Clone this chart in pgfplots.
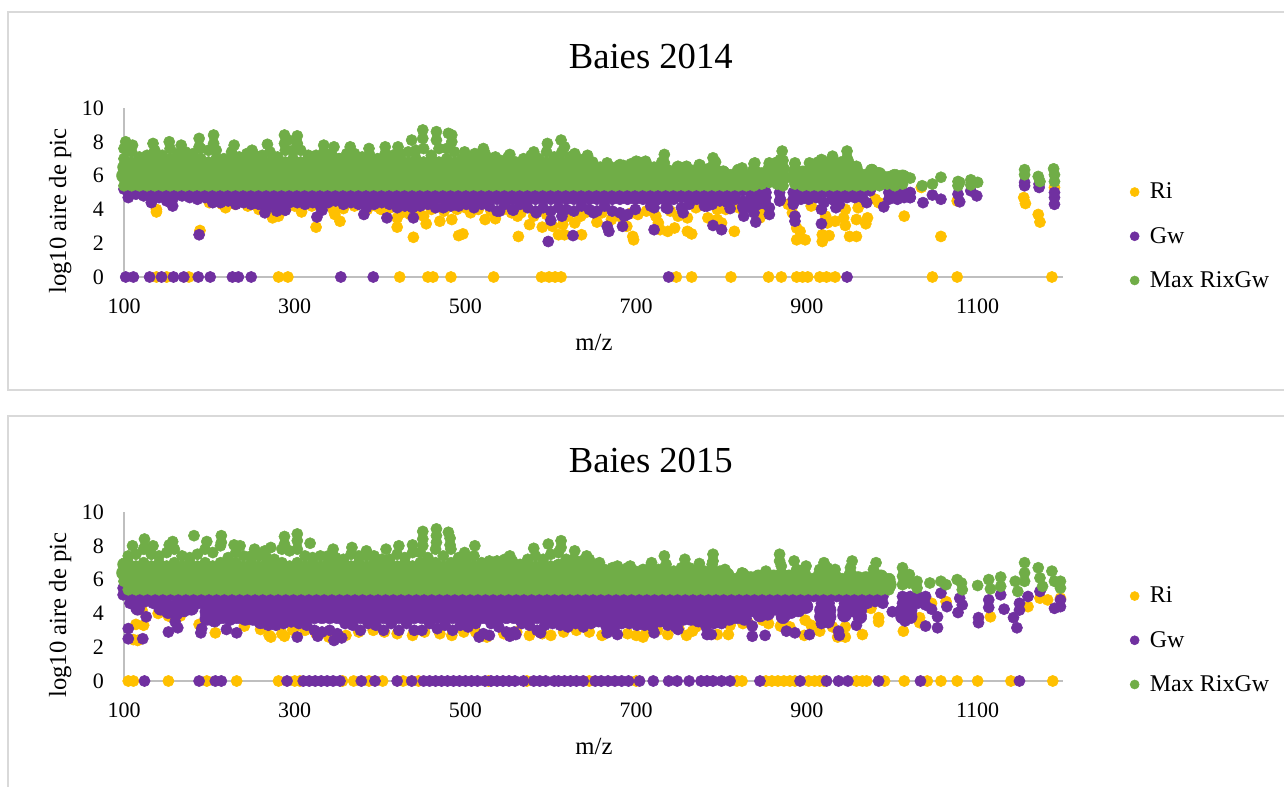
\documentclass[border=0pt]{standalone}
\usepackage{pgfplots}
\usepackage{pgfplotstable}
\usepackage{fontspec}
\setmainfont{Liberation Serif}
\pgfplotsset{compat=1.18}
\definecolor{ri}{HTML}{FFC000}
\definecolor{gw}{HTML}{7030A0}
\definecolor{mx}{HTML}{70AD47}
\definecolor{axg}{HTML}{BFBFBF}
\definecolor{frm}{HTML}{D9D9D9}
\pgfplotsset{
 mk/.style={only marks,mark=*,mark size=4.2pt},
 ri/.style={mk,color=ri},gw/.style={mk,color=gw},mx/.style={mk,color=mx},
 panel/.style={
  scale only axis,width=704.25pt,height=126.75pt,anchor=south west,clip=false,
  xmin=100,xmax=1200,ymin=0,ymax=10,
  axis x line*=bottom,axis y line*=left,
  axis line style={draw=axg,line width=1.3pt,-},
  xtick={100,300,500,700,900,1100},ytick={0,2,4,6,8,10},
  major tick length=0pt,
  /pgf/number format/assume math mode=true,
  /pgf/number format/1000 sep={},
  tick label style={font=\fontsize{16.5}{18}\selectfont},
  xticklabel style={yshift=-13pt},yticklabel style={xshift=-11.5pt},
  xlabel={m/z},ylabel={log10 aire de pic},
  label style={font=\fontsize{18.5}{21}\selectfont},
  xlabel style={at={(axis description cs:.5005,-.385)},anchor=center},
  ylabel style={at={(axis description cs:-.068,.39)},anchor=center},
  title style={font=\fontsize{27.5}{30}\selectfont,at={(axis description cs:.561,1.255)},anchor=center},
  legend style={at={(axis description cs:1.0712,.573)},anchor=north west,draw=none,fill=none,
   font=\fontsize{18}{20}\selectfont,row sep=15.75pt,column sep=6pt,inner sep=0pt},
  legend cell align=left,
  legend image post style={mark size=3.4pt},
 }
}
\newcommand{\ser}[3]{\addplot[#1,forget plot] table[x=x,y=#3]{#2};}
% ---------- 2014 ----------
\pgfplotstableread{
x a b c d e
100 5.4 6.0 6.5 7.0 7.6
109 5.4 5.8 6.3 6.8 7.4
118 5.4 6.0 6.5 6.9 7.1
127 5.4 5.8 6.3 6.8 7.2
136 5.4 6.0 6.5 7.0 7.5
145 5.4 5.8 6.3 6.8 7.2
154 5.4 6.0 6.5 7.0 7.6
163 5.4 5.8 6.3 6.8 7.3
172 5.4 6.0 6.5 7.0 7.4
181 5.4 5.8 6.3 6.8 7.3
190 5.4 6.0 6.5 7.0 7.6
199 5.4 5.8 6.3 6.8 7.5
208 5.4 6.0 6.5 7.0 7.5
217 5.4 5.8 6.3 6.8 7.0
226 5.4 6.0 6.5 7.0 7.4
235 5.4 5.8 6.3 6.8 7.1
244 5.4 6.0 6.5 7.0 7.3
253 5.4 5.8 6.3 6.8 7.2
262 5.4 6.0 6.5 7.0 7.2
271 5.4 5.8 6.3 6.8 7.4
280 5.4 6.0 6.5 7.0 7.1
289 5.4 5.8 6.3 6.8 7.5
298 5.4 6.0 6.5 7.0 7.5
307 5.4 5.8 6.3 6.8 7.5
316 5.4 6.0 6.5 7.0 7.2
325 5.4 5.8 6.3 6.8 7.2
334 5.4 6.0 6.5 7.0 7.4
343 5.4 5.8 6.3 6.8 7.3
352 5.4 6.0 6.5 7.0 7.0
361 5.4 5.8 6.3 6.8 7.3
370 5.4 6.0 6.5 7.0 7.3
379 5.4 5.8 6.3 6.8 7.1
388 5.4 6.0 6.5 7.0 7.2
397 5.4 5.8 6.3 6.8 7.0
406 5.4 6.0 6.5 7.0 7.3
415 5.4 5.8 6.3 6.8 7.2
424 5.4 6.0 6.5 7.0 7.3
433 5.4 5.8 6.3 6.8 7.4
442 5.4 6.0 6.5 7.0 7.5
451 5.4 5.8 6.3 6.8 7.6
460 5.4 6.0 6.5 7.0 7.2
469 5.4 5.8 6.3 6.8 7.6
478 5.4 6.0 6.5 7.0 7.6
487 5.4 5.8 6.3 6.8 7.4
496 5.4 6.0 6.5 7.0 7.0
505 5.4 5.8 6.3 6.8 7.1
514 5.4 6.0 6.5 7.0 7.0
523 5.4 5.8 6.3 6.8 7.3
532 5.4 6.0 6.5 6.8 7.0
541 5.4 5.8 6.3 6.7 6.9
550 5.4 6.0 6.5 6.9 7.1
559 5.4 5.8 6.3 6.7 6.8
568 5.4 6.0 6.5 6.9 7.0
577 5.4 5.8 6.3 6.8 7.2
586 5.4 6.0 6.5 6.9 7.0
595 5.4 5.8 6.3 6.8 7.4
604 5.4 6.0 6.5 6.9 7.1
613 5.4 5.8 6.3 6.8 7.4
622 5.4 6.0 6.5 6.9 7.1
631 5.4 5.8 6.3 6.7 7.0
640 5.4 6.0 6.5 6.8 7.0
649 5.4 5.8 6.3 6.6 6.8
658 5.4 6.0 6.3 6.5 nan
667 5.4 5.8 6.2 6.6 nan
676 5.4 5.9 6.2 6.5 nan
685 5.4 5.8 6.2 6.6 nan
694 5.4 5.9 6.3 6.7 nan
703 5.4 5.8 6.3 6.8 nan
712 5.4 6.0 6.4 6.7 nan
721 5.4 5.8 6.2 6.5 nan
730 5.4 6.0 6.4 6.8 nan
739 5.4 5.8 6.1 6.3 nan
748 5.4 5.9 6.2 6.5 nan
757 5.4 5.8 6.2 6.5 nan
766 5.4 5.9 6.1 6.3 nan
775 5.4 5.8 6.2 6.6 nan
784 5.4 5.9 6.2 6.4 nan
793 5.4 5.8 6.3 6.8 nan
802 5.4 5.9 6.2 nan nan
811 5.4 5.7 6.0 nan nan
820 5.4 5.9 6.3 nan nan
829 5.4 5.7 6.0 nan nan
838 5.4 5.9 6.3 6.7 nan
847 5.5 5.8 6.1 nan nan
856 5.6 6.0 6.4 6.7 nan
865 5.5 5.9 6.3 6.8 nan
872 5.4 5.9 6.4 6.9 nan
886 5.5 5.9 6.3 6.7 nan
895 5.4 5.8 6.2 nan nan
904 5.4 5.9 6.3 6.7 nan
913 5.4 5.8 6.3 6.8 nan
922 5.4 6.0 6.4 6.8 nan
931 5.4 5.8 6.3 6.8 nan
940 5.4 6.0 6.4 6.8 nan
949 5.4 5.8 6.3 6.8 nan
958 5.4 5.9 6.3 6.5 nan
967 5.4 5.7 6.0 nan nan
976 5.4 5.9 6.3 nan nan
985 5.4 5.7 6.1 nan nan
994 5.5 5.8 nan nan nan
1003 5.4 5.7 6.0 nan nan
1012 5.5 5.9 nan nan nan
}\GA
\pgfplotstableread{
x a b c
100 5.2 nan nan
105 5.0 4.7 nan
114 5.0 4.9 nan
123 5.0 4.8 nan
132 5.0 4.7 4.4
141 5.0 4.7 nan
150 5.0 4.6 4.5
157 5.0 4.6 4.2
168 5.0 4.8 nan
177 5.0 4.7 nan
186 5.0 4.6 nan
195 5.0 4.7 nan
204 5.0 4.6 4.4
213 5.0 4.6 4.4
222 5.0 4.7 4.5
231 5.0 4.6 4.3
240 5.0 4.6 4.4
249 5.0 4.6 4.3
258 5.0 4.6 4.3
267 5.0 4.6 4.1
276 5.0 4.6 4.3
285 5.0 4.6 4.2
294 5.0 4.6 4.4
303 5.0 4.6 4.4
312 5.0 4.6 4.3
321 5.0 4.6 4.4
330 5.0 4.6 4.2
339 5.0 4.6 4.4
348 5.0 4.6 4.5
357 5.0 4.6 4.3
366 5.0 4.6 4.4
375 5.0 4.6 4.3
384 5.0 4.6 4.1
393 5.0 4.6 4.3
402 5.0 4.6 4.4
411 5.0 4.6 4.3
420 5.0 4.6 4.1
429 5.0 4.6 4.2
438 5.0 4.6 4.1
447 5.0 4.6 4.2
456 5.0 4.6 4.3
465 5.0 4.6 4.1
474 5.0 4.6 4.1
483 5.0 4.6 4.2
492 5.0 4.6 4.2
501 5.0 4.6 4.3
510 5.0 4.6 4.1
519 5.0 4.6 4.3
528 5.0 4.6 4.2
537 5.0 4.6 3.9
546 5.0 4.6 4.3
555 5.0 4.6 4.0
564 5.0 4.6 4.3
573 5.0 4.6 4.1
582 5.0 4.6 3.9
591 5.0 4.6 4.1
600 5.0 4.6 3.9
609 5.0 4.6 4.1
618 5.0 4.6 4.0
627 5.0 4.6 3.9
636 5.0 4.6 4.2
645 5.0 4.6 4.0
654 5.0 4.6 3.9
663 5.0 4.6 4.2
672 5.0 4.6 3.9
681 5.0 4.6 3.8
690 5.0 4.6 3.7
699 5.0 4.6 4.0
708 5.0 4.6 nan
717 5.0 4.7 4.2
726 4.9 4.6 nan
735 5.0 4.5 4.1
744 4.9 4.6 nan
753 5.0 4.7 4.1
762 5.0 4.6 4.3
771 5.0 4.6 nan
780 4.9 4.5 4.2
789 5.0 4.7 4.3
798 4.9 4.5 nan
807 4.9 4.4 nan
816 4.9 4.6 nan
825 5.1 4.5 4.2
834 5.0 4.6 4.1
843 5.0 4.6 4.3
852 5.0 4.7 4.3
868 5.0 4.5 nan
884 5.0 4.6 4.3
893 5.0 4.6 nan
902 5.0 4.6 nan
911 5.0 4.7 nan
920 5.0 4.4 nan
929 5.0 4.6 nan
938 5.0 4.7 4.3
947 5.0 4.7 nan
956 5.0 4.7 nan
965 5.0 4.7 nan
974 5.1 nan nan
996 5.0 4.6 nan
1005 5.0 4.7 nan
1014 5.0 4.7 nan
1021 5.0 4.7 nan
}\PA
% ---------- 2015 ----------
\pgfplotstableread{
x a b c d e
100 5.9 6.4 6.9 nan nan
105 5.4 6.0 6.5 7.0 7.4
114 5.4 5.8 6.3 6.8 7.5
123 5.4 6.0 6.5 7.0 7.8
132 5.4 5.8 6.3 6.8 7.5
141 5.4 6.0 6.5 7.0 7.4
150 5.4 5.8 6.3 6.8 7.6
159 5.4 6.0 6.5 7.0 7.8
168 5.4 5.8 6.3 6.8 7.4
177 5.4 6.0 6.5 7.0 7.3
186 5.4 5.8 6.3 6.8 7.5
195 5.4 6.0 6.5 7.0 7.8
204 5.4 5.8 6.3 6.8 7.6
213 5.4 6.0 6.5 7.0 8.0
222 5.4 5.8 6.3 6.8 7.3
231 5.4 6.0 6.5 7.0 7.6
240 5.4 5.8 6.3 6.8 7.4
249 5.4 6.0 6.5 7.0 7.4
258 5.4 5.8 6.3 6.8 7.4
267 5.4 6.0 6.5 7.0 7.3
276 5.4 5.8 6.3 6.8 7.2
285 5.4 6.0 6.5 7.0 7.8
294 5.4 5.8 6.3 6.8 7.7
303 5.4 6.0 6.5 7.0 7.8
312 5.4 5.8 6.3 6.8 7.4
321 5.4 6.0 6.5 7.0 7.3
330 5.4 5.8 6.3 6.8 7.4
339 5.4 6.0 6.5 7.0 7.4
348 5.4 5.8 6.3 6.8 7.3
357 5.4 6.0 6.5 7.0 7.2
366 5.4 5.8 6.3 6.8 7.5
375 5.4 6.0 6.5 7.0 7.4
384 5.4 5.8 6.3 6.8 7.4
393 5.4 6.0 6.5 7.0 7.4
402 5.4 5.8 6.3 6.8 7.2
411 5.4 6.0 6.5 7.0 7.2
420 5.4 5.8 6.3 6.8 7.5
429 5.4 6.0 6.5 7.0 7.3
438 5.4 5.8 6.3 6.8 7.6
447 5.4 6.0 6.5 7.0 7.6
456 5.4 5.8 6.3 6.8 7.3
465 5.4 6.0 6.5 7.0 7.8
474 5.4 5.8 6.3 6.8 7.4
483 5.4 6.0 6.5 7.0 7.8
492 5.4 5.8 6.3 6.8 7.3
501 5.4 6.0 6.5 7.0 7.2
510 5.4 5.8 6.3 6.8 7.4
519 5.4 6.0 6.5 6.9 7.0
528 5.4 5.8 6.3 6.8 7.1
537 5.4 6.0 6.5 6.9 7.1
546 5.4 5.8 6.3 6.8 7.2
555 5.4 6.0 6.5 6.9 7.1
564 5.4 5.8 6.3 6.7 6.9
573 5.4 6.0 6.5 6.9 7.2
582 5.4 5.8 6.3 6.8 7.4
591 5.4 6.0 6.5 6.9 7.2
600 5.4 5.8 6.3 6.8 7.5
609 5.4 6.0 6.5 6.9 7.6
618 5.4 5.8 6.3 6.8 7.2
627 5.4 6.0 6.5 6.9 7.2
636 5.4 5.8 6.3 6.8 7.1
645 5.4 6.0 6.5 6.9 7.2
654 5.4 5.8 6.3 6.7 6.9
663 5.4 6.0 6.4 6.6 nan
672 5.4 5.8 6.3 6.7 nan
681 5.4 6.0 6.4 6.6 nan
690 5.4 5.8 6.3 6.7 nan
699 5.4 6.0 6.4 6.5 nan
708 5.4 5.8 6.3 6.6 nan
717 5.4 6.0 6.4 6.8 nan
726 5.4 5.8 6.3 6.6 nan
735 5.4 6.0 6.4 6.9 nan
744 5.4 5.8 6.2 6.5 nan
753 5.4 6.0 6.4 6.7 nan
762 5.4 5.8 6.3 6.7 nan
771 5.4 6.0 6.4 6.6 nan
780 5.4 5.8 6.2 6.5 nan
789 5.4 6.0 6.5 6.9 nan
798 5.4 5.8 6.2 6.5 nan
807 5.4 5.9 6.3 nan nan
816 5.4 5.7 6.0 nan nan
825 5.4 5.9 6.3 nan nan
834 5.4 5.7 6.1 nan nan
843 5.4 5.9 6.2 nan nan
852 5.4 5.8 6.3 nan nan
861 5.4 5.9 6.2 nan nan
870 5.4 5.8 6.3 6.8 nan
879 5.4 5.9 6.2 nan nan
888 5.4 5.8 6.3 6.6 nan
897 5.4 5.9 6.3 6.6 nan
906 5.4 5.8 6.0 nan nan
915 5.4 5.9 6.3 6.6 nan
924 5.4 5.8 6.3 6.7 nan
933 5.4 5.9 6.2 nan nan
942 5.4 5.7 6.0 nan nan
951 5.4 5.9 6.3 6.7 nan
960 5.4 5.8 6.1 nan nan
969 5.4 5.9 6.1 nan nan
978 5.4 5.8 6.2 6.6 nan
987 5.4 5.8 6.2 nan nan
996 5.4 5.7 6.0 nan nan
}\GB
\pgfplotstableread{
x a b c d e
99 5.5 5.1 nan nan nan
107 5.0 4.6 nan nan nan
116 5.0 4.6 4.3 nan nan
125 5.0 4.7 nan nan nan
134 5.0 4.6 nan nan nan
143 5.0 4.7 4.3 nan nan
152 5.0 4.5 4.1 nan nan
161 5.0 4.5 4.0 nan nan
170 5.0 4.6 4.2 nan nan
179 5.0 4.6 4.3 nan nan
188 5.0 4.6 nan nan nan
197 5.0 4.6 4.1 3.7 nan
206 5.0 4.6 4.1 3.6 nan
215 5.0 4.6 4.2 3.8 nan
224 5.0 4.6 4.1 3.7 nan
233 5.0 4.6 4.2 3.8 nan
242 5.0 4.6 4.2 3.7 nan
251 5.0 4.6 4.1 3.7 nan
260 5.0 4.6 4.2 3.5 nan
269 5.0 4.6 4.2 3.6 3.3
278 5.0 4.6 4.2 3.8 3.3
287 5.0 4.6 4.2 3.8 3.4
296 5.0 4.6 4.2 3.8 3.5
305 5.0 4.6 4.2 3.8 3.4
314 5.0 4.6 4.2 3.8 3.3
323 5.0 4.6 4.2 3.8 3.0
332 5.0 4.6 4.2 3.8 2.9
341 5.0 4.6 4.2 3.8 3.0
350 5.0 4.6 4.2 3.8 2.8
359 5.0 4.6 4.2 3.8 3.4
368 5.0 4.6 4.2 3.8 3.3
377 5.0 4.6 4.2 3.8 3.0
386 5.0 4.6 4.2 3.8 3.4
395 5.0 4.6 4.2 3.8 3.3
404 5.0 4.6 4.2 3.8 3.0
413 5.0 4.6 4.2 3.8 3.4
422 5.0 4.6 4.2 3.8 3.0
431 5.0 4.6 4.2 3.8 3.4
440 5.0 4.6 4.2 3.8 3.0
449 5.0 4.6 4.2 3.8 3.0
458 5.0 4.6 4.2 3.8 3.4
467 5.0 4.6 4.2 3.8 3.1
476 5.0 4.6 4.2 3.8 3.3
485 5.0 4.6 4.2 3.8 3.0
494 5.0 4.6 4.2 3.8 3.3
503 5.0 4.6 4.2 3.8 3.2
512 5.0 4.6 4.2 3.8 3.4
521 5.0 4.6 4.2 3.8 2.8
530 5.0 4.6 4.2 3.8 3.4
539 5.0 4.6 4.2 3.8 3.2
548 5.0 4.6 4.2 3.8 2.9
557 5.0 4.6 4.2 3.8 2.9
566 5.0 4.6 4.2 3.8 3.4
575 5.0 4.6 4.2 3.8 3.3
584 5.0 4.6 4.2 3.8 3.0
593 5.0 4.6 4.2 3.8 3.3
602 5.0 4.6 4.2 3.8 3.4
611 5.0 4.6 4.2 3.8 3.3
620 5.0 4.6 4.2 3.8 3.2
629 5.0 4.6 4.2 3.8 3.4
638 5.0 4.6 4.2 3.8 3.2
647 5.0 4.6 4.2 3.8 3.4
656 5.0 4.6 4.2 3.6 nan
665 5.0 4.6 4.2 3.7 3.2
674 5.0 4.6 4.2 3.6 3.1
683 5.0 4.6 4.2 3.8 3.4
692 5.0 4.6 4.2 3.8 3.4
701 5.0 4.6 4.2 3.7 3.3
710 5.0 4.6 4.2 3.6 3.3
719 5.0 4.6 4.2 3.8 3.2
728 5.0 4.6 4.0 3.6 nan
737 5.0 4.6 4.2 3.7 3.3
746 5.0 4.6 4.0 3.5 3.2
755 5.0 4.6 4.1 3.7 nan
764 5.0 4.6 4.2 3.7 nan
773 5.0 4.6 4.1 3.6 nan
782 5.0 4.6 4.2 3.7 3.2
791 5.0 4.6 4.2 3.7 3.4
800 5.0 4.6 4.2 3.8 3.4
809 5.0 4.6 4.2 3.7 nan
818 5.0 4.6 4.2 3.8 nan
827 5.0 4.6 4.1 3.7 nan
836 5.0 4.6 4.2 nan nan
845 5.0 4.6 4.3 3.9 nan
854 5.0 4.6 4.0 nan nan
863 5.0 4.6 4.3 nan nan
872 5.0 4.6 4.2 3.8 nan
881 5.0 4.6 4.1 nan nan
890 5.0 4.6 4.2 nan nan
899 5.0 4.6 4.4 nan nan
908 5.0 nan nan nan nan
917 5.0 4.6 4.2 3.8 3.4
926 5.0 4.6 4.2 3.8 3.5
935 5.0 nan nan nan nan
944 5.0 4.6 4.2 3.9 nan
953 5.0 4.6 4.2 nan nan
962 5.0 4.6 4.2 3.8 nan
971 5.0 4.6 nan nan nan
980 5.0 4.7 nan nan nan
989 5.0 4.6 nan nan nan
1012 5.0 4.6 4.2 3.8 nan
1021 5.0 4.6 4.2 3.8 nan
1030 5.0 4.6 nan nan nan
1039 5.0 4.5 nan nan nan
}\PB
\begin{document}
\begin{tikzpicture}
\path[use as bounding box] (0pt,0pt) rectangle (963pt,-590.25pt);
\draw[frm,line width=1.6pt] (963pt,-9pt) -- (6pt,-9pt) -- (6pt,-292.5pt) -- (963pt,-292.5pt);
\draw[frm,line width=1.6pt] (963pt,-312pt) -- (6pt,-312pt) -- (6pt,-590.25pt);
% ===================== 2014 =====================
\begin{axis}[panel,at={(93pt,-207.75pt)},title={Baies 2014}]
\addplot[ri,forget plot] coordinates {(138,0)(150,0)(176,0)(281,0)(292,0)(423,0)(456,0)(462,0)(483,0)(533,0)(589,0)(598,0)(605,0)(612,0)(747,0)(765,0)(811,0)(855,0)(870,0)(888,0)(895,0)(901,0)(915,0)(923,0)(933,0)(1047,0)(1076,0)(1187,0)};
\addplot[ri,forget plot] coordinates {(200,4.4)(215,4.3)(230,4.3)(245,4.2)(258,4.0)(270,3.9)(290,4.1)(300,4.2)(335,4.2)(345,4.0)(370,4.2)(385,4.0)(395,4.2)(412,4.1)(425,3.8)(435,3.7)(445,3.8)(460,4.0)(475,3.9)(490,4.0)(500,4.1)(515,4.0)(530,3.9)(545,4.0)(565,3.8)(580,3.6)(595,3.7)(620,3.6)(640,3.8)(660,3.8)(680,3.6)(695,3.8)(712,3.9)(740,3.9)(770,4.1)(805,4.0)(820,4.1)(850,4.0)(878,4.3)(905,4.2)(945,4.0)(980,4.6)(1000,4.8)};
\addplot[ri] coordinates {(138,4.0)(138,3.85)(189,2.75)(219,4.1)(274,3.5)(281,3.6)(308,3.85)(310,4.4)(320,4.2)(325,2.95)(347,3.7)(353,3.3)(357,4.05)(401,4.0)(420,3.5)(420,2.95)(439,2.35)(451,3.6)(454,3.15)(470,3.3)(484,3.4)(492,2.45)(497,2.55)(506,3.8)(523,3.4)(535,3.45)(554,3.8)(562,2.4)(561,3.6)(575,3.1)(590,2.95)(602,3.0)(609,2.5)(616,2.5)(614,3.1)(628,3.2)(635,3.6)(636,2.5)(654,3.25)(671,3.4)(689,3.0)(696,2.4)(697,2.2)(702,3.7)(723,3.6)(726,3.2)(728,2.8)(737,2.7)(745,2.9)(749,3.6)(760,3.5)(760,2.7)(765,2.55)(784,3.5)(795,3.4)(800,3.2)(815,2.7)(795,4.0)(845,3.5)(883,3.8)(888,2.9)(892,2.7)(888,2.2)(898,2.2)(918,2.1)(918,2.5)(926,2.45)(922,3.6)(924,3.2)(933,3.3)(943,3.5)(945,3.05)(950,2.4)(958,2.4)(958,3.4)(960,4.1)(969,3.15)(971,3.5)(984,4.4)(1014,3.6)(1034,5.3)(1057,2.4)(1076,4.5)(1154,4.7)(1156,4.35)(1171,3.7)(1173,3.25)(1190,5.3)};
\addlegendentry{Ri}
\ser{gw}{\PA}{a}\ser{gw}{\PA}{b}\ser{gw}{\PA}{c}
\addplot[gw,forget plot] coordinates {(102,0)(111,0)(130,0)(144,0)(158,0)(170,0)(187,0)(201,0)(227,0)(234,0)(249,0)(354,0)(392,0)(738,0)(947,0)};
\addplot[gw] coordinates {(188,2.5)(265,3.8)(279,3.9)(289,3.95)(326,3.55)(332,3.95)(381,3.7)(408,3.5)(439,3.5)(556,3.95)(583,3.8)(600,3.35)(597,2.1)(613,3.6)(626,2.45)(666,3.0)(668,2.7)(684,3.0)(686,3.6)(650,3.8)(540,3.9)(721,4.1)(721,2.8)(737,4.05)(755,3.8)(783,4.2)(790,3.05)(800,2.8)(810,4.05)(825,4.1)(826,3.6)(838,3.8)(840,3.25)(856,4.1)(856,3.7)(869,4.6)(886,3.6)(886,3.3)(917,4.0)(917,3.15)(934,4.1)(970,4.4)(990,4.15)(1006,4.6)(1021,4.7)(1036,4.4)(1047,4.85)(1057,4.6)(1077,4.9)(1079,4.45)(1092,5.1)(1099,4.8)(1155,5.6)(1155,5.4)(1172,5.3)(1172,5.5)(1190,5.0)(1190,4.7)(1190,4.3)};
\addlegendentry{Gw}
\ser{mx}{\GA}{a}\ser{mx,mark size=5.6pt}{\GA}{b}\ser{mx,mark size=4.8pt}{\GA}{c}\ser{mx}{\GA}{d}\ser{mx}{\GA}{e}
\addplot[mx] coordinates {(102,8.0)(102,7.6)(110,7.8)(134,7.9)(153,8.0)(167,7.8)(188,8.2)(188,7.7)(205,8.4)(205,7.9)(229,7.8)(250,7.5)(268,7.85)(288,8.4)(288,7.9)(303,8.35)(303,7.9)(292,8.1)(334,7.8)(346,7.7)(365,7.7)(387,7.6)(406,7.7)(421,7.7)(437,8.1)(450,8.7)(450,8.2)(466,8.6)(466,8.1)(480,8.5)(484,8.4)(484,8.0)(499,7.4)(511,7.3)(521,7.6)(535,7.1)(552,7.25)(580,7.4)(596,7.9)(612,8.1)(616,7.7)(628,7.3)(643,7.2)(666,6.75)(681,6.65)(700,6.85)(711,6.85)(733,7.25)(733,6.75)(749,6.55)(759,6.55)(774,6.65)(790,7.05)(790,6.6)(802,6.25)(824,6.45)(839,6.75)(856,6.75)(871,7.45)(869,6.95)(886,6.75)(903,6.75)(917,6.95)(930,7.15)(930,6.7)(947,7.45)(947,7.05)(958,6.55)(976,6.35)(984,6.15)(1000,6.0)(1015,5.95)(1021,5.85)(1035,5.4)(1047,5.5)(1057,5.9)(1077,5.65)(1077,5.4)(1079,5.6)(1092,5.75)(1092,5.45)(1100,5.6)(1155,6.35)(1155,6.05)(1171,5.95)(1173,5.65)(1189,6.4)(1190,6.05)(1190,5.65)};
\addlegendentry{Max RixGw}
\end{axis}
% ===================== 2015 =====================
\begin{axis}[panel,at={(93pt,-510.75pt)},title={Baies 2015}]
\addplot[ri,forget plot] coordinates {(105,0)(111,0)(152,0)(197,0)(232,0)(281,0)(300,0)(306,0)(356,0)(369,0)(387,0)(403,0)(427,0)(445,0)(527,0)(572,0)(645,0)(700,0)(824,0)(818,0)(852,0)(859,0)(866,0)(873,0)(880,0)(886,0)(902,0)(909,0)(915,0)(920,0)(958,0)(965,0)(970,0)(991,0)(1014,0)(1041,0)(1057,0)(1076,0)(1100,0)(1139,0)(1188,0)};
\addplot[ri,forget plot] coordinates {(270,2.7)(285,2.8)(298,3.0)(312,3.0)(325,2.8)(340,2.6)(360,2.7)(375,2.9)(392,3.0)(405,2.9)(420,2.8)(438,2.7)(452,2.9)(470,2.8)(484,2.7)(498,2.9)(512,2.9)(525,2.6)(545,2.8)(560,2.9)(575,2.7)(590,2.8)(600,2.7)(615,2.9)(630,3.0)(645,2.9)(660,2.7)(672,3.0)(690,2.8)(700,2.7)(712,2.9)(725,3.0)(750,3.1)(770,3.2)(810,3.3)(825,3.4)(855,3.4)(880,3.2)(905,3.3)(930,3.2)(945,3.2)(975,4.3)};
\addplot[ri] coordinates {(114,3.35)(116,2.4)(111,2.45)(121,4.2)(123,3.3)(140,4.0)(152,3.85)(166,3.85)(188,3.35)(207,2.85)(241,3.25)(260,3.05)(272,2.6)(288,2.65)(298,3.05)(984,3.75)(984,3.5)(1013,2.95)(1032,3.75)(1032,3.45)(1046,4.6)(1063,4.7)(1115,3.8)(1173,4.9)(1182,4.8)(1197,4.9)(965,2.75)(936,2.6)(945,2.6)(915,2.95)(897,2.7)(898,3.6)(869,3.25)(831,3.45)(848,3.6)(808,2.75)(795,2.75)(759,2.7)(766,2.95)(737,2.75)(708,2.6)(1159,4.4)};
\addlegendentry{Ri}
\ser{gw}{\PB}{a}\ser{gw}{\PB}{b}\ser{gw,mark size=5.2pt}{\PB}{c}\ser{gw,mark size=5.2pt}{\PB}{d}\ser{gw}{\PB}{e}
\addplot[gw,forget plot] coordinates {(124,0)(188,0)(207,0)(214,0)(291,0)(310,0)(317,0)(324,0)(331,0)(338,0)(345,0)(353,0)(378,0)(394,0)(420,0)(437,0)(451,0)(458,0)(465,0)(472,0)(479,0)(486,0)(493,0)(500,0)(507,0)(514,0)(523,0)(530,0)(537,0)(544,0)(551,0)(558,0)(568,0)(580,0)(587,0)(594,0)(604,0)(609,0)(616,0)(623,0)(630,0)(638,0)(652,0)(659,0)(667,0)(675,0)(683,0)(691,0)(704,0)(720,0)(738,0)(748,0)(762,0)(776,0)(783,0)(790,0)(800,0)(810,0)(845,0)(892,0)(923,0)(937,0)(948,0)(984,0)(1033,0)(1149,0)};
\addplot[gw] coordinates {(105,3.1)(105,2.5)(122,2.5)(126,3.8)(152,2.9)(163,3.15)(160,3.5)(190,2.85)(191,3.1)(220,3.05)(232,2.85)(303,2.6)(346,2.4)(327,2.65)(355,2.55)(516,2.6)(528,2.7)(552,2.65)(559,2.75)(588,2.85)(666,2.85)(678,2.75)(721,2.85)(749,3.05)(783,2.75)(788,2.75)(836,3.25)(836,2.65)(851,2.7)(876,2.95)(886,2.85)(903,2.75)(925,3.45)(937,2.95)(938,2.7)(958,3.3)(943,3.85)(1000,4.1)(1015,3.55)(1015,4.3)(1020,4.7)(1039,3.25)(1053,3.15)(1053,3.8)(1046,4.25)(1064,4.4)(1057,5.2)(1077,4.05)(1082,4.5)(1079,4.9)(1101,3.45)(1101,3.75)(1113,4.35)(1113,4.8)(1127,5.1)(1131,4.25)(1142,3.75)(1146,3.15)(1149,4.2)(1149,4.6)(1159,5.0)(1173,5.3)(1190,4.3)(1197,4.4)(1197,4.8)};
\addlegendentry{Gw}
\ser{mx}{\GB}{a}\ser{mx,mark size=5.6pt}{\GB}{b}\ser{mx,mark size=4.8pt}{\GB}{c}\ser{mx}{\GB}{d}\ser{mx}{\GB}{e}
\addplot[mx] coordinates {(110,8.0)(124,8.4)(124,7.9)(134,8.0)(153,8.05)(157,8.25)(182,8.6)(197,8.25)(214,8.6)(214,8.2)(229,8.05)(236,8.0)(253,7.8)(272,7.9)(265,7.7)(288,8.55)(288,8.1)(303,8.7)(303,8.3)(318,8.15)(345,7.8)(367,7.9)(384,7.7)(407,7.8)(422,8.0)(438,8.05)(450,8.85)(450,8.4)(450,8.0)(466,9.0)(466,8.6)(466,8.2)(480,8.8)(482,8.45)(482,8.05)(499,7.6)(511,8.0)(552,7.4)(580,7.85)(597,8.1)(612,8.3)(612,7.9)(628,7.7)(642,7.4)(657,7.0)(678,6.8)(693,6.8)(718,7.0)(733,7.4)(757,7.2)(774,6.95)(790,7.5)(790,7.1)(804,6.6)(824,6.4)(852,6.5)(868,7.5)(868,7.1)(885,7.1)(899,6.8)(920,7.0)(933,6.6)(953,7.1)(981,7.0)(996,6.0)(1012,6.7)(1012,6.2)(1012,5.7)(1020,6.3)(1020,5.8)(1029,5.9)(1029,5.5)(1044,5.8)(1057,5.9)(1063,5.7)(1076,6.0)(1081,5.8)(1082,5.4)(1100,5.65)(1113,6.0)(1115,5.45)(1127,6.15)(1127,5.6)(1144,5.9)(1147,5.3)(1155,7.0)(1155,6.4)(1155,5.9)(1171,6.7)(1173,6.1)(1176,5.6)(1187,6.5)(1190,5.9)(1197,5.9)(1197,5.5)};
\addlegendentry{Max RixGw}
\end{axis}
\end{tikzpicture}
\end{document}
